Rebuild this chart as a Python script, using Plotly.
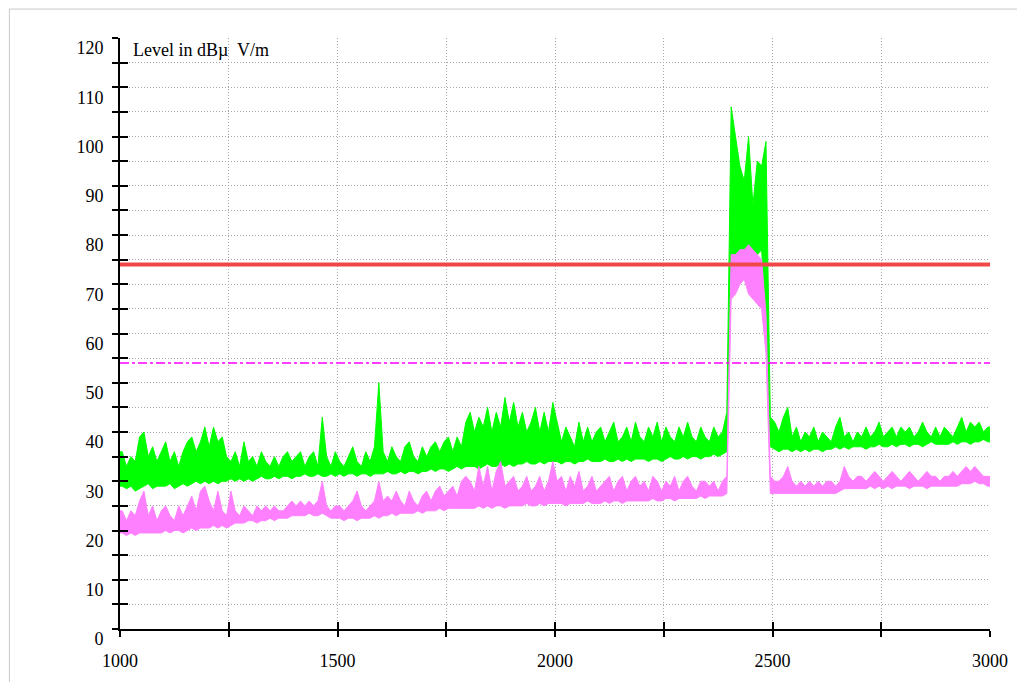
import numpy as np
import plotly.graph_objects as go

# ---------------- data ----------------
F_START, F_STOP, F_STEP = 1000, 3000, 10   # MHz, 10 MHz bins

GREEN_HI = [
    36, 33, 35, 34, 39, 40, 35, 37, 34, 36,
    38, 34, 36, 33, 36, 38, 39, 36, 38, 41,
    37, 41, 38, 39, 35, 34, 36, 33, 38, 34,
    35, 33, 36, 34, 33, 35, 33, 35, 36, 34,
    35, 36, 33, 35, 36, 33, 43, 35, 33, 36,
    34, 33, 35, 37, 34, 33, 36, 34, 37, 50,
    36, 34, 37, 35, 34, 37, 38, 35, 34, 37,
    35, 37, 38, 36, 38, 39, 36, 39, 37, 42,
    44, 40, 43, 41, 45, 40, 44, 41, 47, 42,
    46, 41, 44, 40, 42, 45, 40, 44, 40, 46,
    42, 38, 41, 39, 37, 42, 38, 41, 38, 40,
    41, 38, 40, 42, 38, 39, 41, 38, 42, 39,
    38, 41, 39, 42, 38, 41, 39, 38, 41, 39,
    42, 39, 38, 41, 39, 38, 41, 39, 40, 44,
    106, 100, 94, 91, 100, 86, 95, 94, 99, 43,
    42, 40, 43, 45, 39, 41, 38, 40, 39, 41,
    38, 40, 39, 38, 41, 43, 39, 40, 38, 40,
    39, 41, 39, 40, 42, 39, 40, 41, 39, 41,
    40, 41, 39, 40, 42, 40, 39, 41, 39, 41,
    40, 39, 41, 43, 40, 42, 41, 42, 40, 41,
]
GREEN_LO = [
    29, 28.5, 29, 28, 28.5, 29, 29.5, 28.5, 29, 29,
    29, 29.5, 28.5, 29, 29.5, 29, 29.5, 30, 29.5, 30,
    29.5, 30, 29.5, 30, 30, 30.5, 30, 30.5, 30, 30.5,
    30, 30.5, 31, 30.5, 30.5, 31, 30.5, 31, 31, 30.5,
    31, 31, 31.5, 31, 31, 31.5, 31, 31, 31.5, 31,
    31.5, 31, 31.5, 31.5, 31, 31.5, 31.5, 31, 31.5, 31.5,
    31.5, 32, 31.5, 31.5, 32, 31.5, 32, 32, 31.5, 32,
    32, 32.5, 32, 32.5, 32.5, 32, 32.5, 33, 32.5, 33,
    33, 33, 32.5, 33, 33.5, 33, 33, 33.5, 33, 33.5,
    33, 33.5, 33.5, 34, 33.5, 33.5, 34, 33.5, 34, 34,
    34, 33.5, 34, 34, 33.5, 34, 34, 34.5, 34, 34,
    34, 34.5, 34, 34, 34.5, 34, 34.5, 34, 34.5, 34.5,
    34.5, 34, 34.5, 34.5, 34, 34.5, 35, 34.5, 34.5, 35,
    34.5, 35, 35, 34.5, 35, 35, 35.5, 35, 35.5, 36,
    76, 76, 77, 76, 77, 76, 76, 77, 62, 37,
    36.5, 36, 36.5, 36.5, 36, 36.5, 36, 36.5, 36, 36.5,
    36.5, 36, 36.5, 36.5, 37, 36.5, 37, 36.5, 37, 37,
    37, 36.5, 37, 37, 37.5, 37, 37, 37.5, 37, 37.5,
    37.5, 37, 37.5, 37.5, 37, 37.5, 38, 37.5, 37.5, 37.5,
    37.5, 38, 37.5, 38, 38, 37.5, 38, 38, 38.5, 38,
]
PINK_HI = [
    24, 22, 24, 23, 26, 28, 23, 25, 22, 24,
    25, 23, 22, 25, 23, 25, 27, 24, 28, 29,
    26, 24, 28, 24, 23, 28, 24, 23, 25, 24,
    23, 25, 24, 25, 24, 25, 24, 24, 25, 26,
    25, 26, 25, 26, 25, 26, 30, 25, 24, 25,
    25, 24, 25, 26, 28, 25, 24, 25, 26, 30,
    26, 27, 26, 28, 26, 25, 28, 26, 25, 27,
    28, 26, 28, 29, 27, 28, 29, 27, 30, 31,
    30, 28, 33, 29, 33, 28, 32, 34, 29, 30,
    31, 28, 29, 31, 28, 29, 31, 28, 30, 34,
    30, 31, 28, 31, 29, 32, 28, 29, 31, 28,
    29, 30, 31, 28, 30, 31, 28, 30, 31, 29,
    30, 28, 31, 30, 28, 30, 29, 31, 28, 30,
    31, 29, 28, 30, 30, 29, 30, 28, 30, 31,
    76, 76, 77, 77, 78, 77, 76, 75, 64, 31,
    30, 30, 31, 33, 30, 29, 30, 29, 30, 29,
    30, 29, 30, 30, 29, 30, 33, 31, 30, 31,
    31, 30, 31, 32, 31, 30, 31, 32, 31, 30,
    31, 32, 31, 30, 31, 32, 31, 31, 30, 31,
    31, 32, 31, 32, 33, 32, 33, 32, 31, 31,
]
PINK_LO = [
    19.5, 19, 19.5, 19, 19.5, 19.5, 19.5, 19.5, 19.5, 19.5,
    20, 19.5, 20, 20, 19.5, 20, 20.5, 20, 20.5, 20.5,
    20.5, 21, 20.5, 21, 20.5, 21, 21.5, 21.5, 21.5, 22,
    22, 21.5, 22, 22, 22.5, 22, 22.5, 22.5, 22.5, 23,
    23, 23, 23, 23.5, 23, 23, 23.5, 23, 22.5, 22.5,
    22.5, 22, 22.5, 22.5, 22, 22.5, 22.5, 22.5, 23, 22.5,
    23, 23, 23.5, 23, 23.5, 23.5, 23.5, 23.5, 24, 23.5,
    24, 24, 24, 24.5, 24, 24.5, 24.5, 24.5, 24.5, 24.5,
    24.5, 24.5, 25, 24.5, 25, 24.5, 25, 25, 24.5, 25,
    25, 25, 25, 25.5, 25, 25, 25.5, 25, 25.5, 25.5,
    25.5, 25.5, 25, 25.5, 25.5, 25.5, 25.5, 26, 25.5, 25.5,
    25.5, 26, 25.5, 26, 26, 25.5, 26, 26, 26, 26,
    26, 26, 26.5, 26, 26, 26.5, 26.5, 26, 26.5, 26.5,
    26.5, 26.5, 26.5, 27, 26.5, 27, 27, 27, 27, 27.5,
    67, 68, 70, 71, 68, 67, 66, 65, 56, 27.5,
    27.5, 27.5, 27.5, 27.5, 27.5, 27.5, 27.5, 27.5, 27.5, 27.5,
    27.5, 27.5, 27.5, 27.5, 27.5, 28, 28.5, 28.5, 28.5, 28.5,
    28.5, 28.5, 29, 28.5, 29, 28.5, 29, 28.5, 29, 29,
    29, 28.5, 29, 29, 29, 28.5, 29, 29, 29, 29,
    29, 29, 29, 29.5, 29.5, 29.5, 30, 29.5, 29.5, 29,
]
LIMIT_PEAK = 74      # dBµV/m
LIMIT_AVG = 54       # dBµV/m
X_TICKS = [1000, 1250, 1500, 1750, 2000, 2250, 2500, 2750, 3000]
X_LABELS = ["1000", "", "1500", "", "2000", "", "2500", "", "3000"]
Y_TICKS = list(range(0, 121, 10))
Y_LABELS = [str(v) for v in Y_TICKS]
Y_TITLE = "Level in dBµ\u00a0 V/m"

# ---------------- build ----------------
centers = np.arange(F_START, F_STOP, F_STEP) + F_STEP / 2
xs = np.concatenate([[F_START], centers, [F_STOP]])


def padded(vals):
    v = list(vals)
    return [v[0]] + v + [v[-1]]


FONT = "Liberation Serif, Times New Roman, serif"
GRID = "#a8a8a8"
GREEN = "#00ff00"
PINK = "#ff80ff"

fig = go.Figure()
for lo, hi, col in ((GREEN_LO, GREEN_HI, GREEN), (PINK_LO, PINK_HI, PINK)):
    fig.add_trace(go.Scatter(x=xs, y=padded(lo), mode="lines",
                             line=dict(color=col, width=1), hoverinfo="skip"))
    fig.add_trace(go.Scatter(x=xs, y=padded(hi), mode="lines", fill="tonexty",
                             fillcolor=col, line=dict(color=col, width=1),
                             hoverinfo="skip"))
fig.add_trace(go.Scatter(x=[F_START, F_STOP], y=[LIMIT_AVG, LIMIT_AVG], mode="lines",
                         line=dict(color="#ff00ff", width=1.5, dash="dashdot")))
fig.add_trace(go.Scatter(x=[F_START, F_STOP], y=[LIMIT_PEAK, LIMIT_PEAK], mode="lines",
                         line=dict(color="#f04848", width=4)))

W, H = 1012, 675
L, T, R, B = 112, 30, 27, 53
PW, PH = W - L - R, H - T - B

fig.update_layout(
    width=W, height=H,
    margin=dict(l=L, r=R, t=T, b=B),
    paper_bgcolor="white", plot_bgcolor="white",
    showlegend=False,
    font=dict(family=FONT, size=18, color="black"),
    xaxis=dict(
        range=[F_START, F_STOP], tickmode="array",
        tickvals=X_TICKS, ticktext=X_LABELS,
        ticks="outside", ticklen=6, tickwidth=2, tickcolor="black",
        ticklabelstandoff=8,
        showline=True, linecolor="black", linewidth=2,
        showgrid=True, gridcolor=GRID, griddash="1px,2px", gridwidth=1,
        zeroline=False, fixedrange=True,
    ),
    xaxis2=dict(
        range=[F_START, F_STOP], overlaying="x", anchor="y", side="bottom",
        tickmode="array", tickvals=X_TICKS, showticklabels=False,
        ticks="inside", ticklen=7, tickwidth=2, tickcolor="black",
        showgrid=False, zeroline=False, showline=False,
    ),
    yaxis=dict(
        range=[0, 120], tickmode="array",
        tickvals=Y_TICKS, ticktext=Y_LABELS,
        ticks="outside", ticklen=6, tickwidth=2, tickcolor="black",
        ticklabelshift=10, ticklabelstandoff=5,
        minor=dict(dtick=5, tick0=0, ticks="outside", ticklen=6, tickwidth=2,
                   tickcolor="black", showgrid=True, gridcolor=GRID,
                   griddash="1px,2px", gridwidth=1),
        showline=True, linecolor="black", linewidth=2,
        showgrid=True, gridcolor=GRID, griddash="1px,2px", gridwidth=1,
        zeroline=False, fixedrange=True,
    ),
    yaxis2=dict(
        range=[0, 120], overlaying="y", anchor="x", side="left",
        tickmode="linear", tick0=0, dtick=5, showticklabels=False,
        ticks="inside", ticklen=8, tickwidth=2, tickcolor="black",
        showgrid=False, zeroline=False, showline=False,
    ),
    annotations=[dict(
        text=Y_TITLE, xref="paper", yref="paper", x=0, y=1,
        xanchor="left", yanchor="top", xshift=11, yshift=0,
        showarrow=False, font=dict(family=FONT, size=18, color="black"),
    )],
    shapes=[
        dict(type="line", xref="paper", yref="paper",
             x0=-(L - 1) / PW, x1=(W - L) / PW, y0=1 + (T - 1) / PH, y1=1 + (T - 1) / PH,
             line=dict(color="#c8c8c8", width=1)),
        dict(type="line", xref="paper", yref="paper",
             x0=-(L - 1) / PW, x1=-(L - 1) / PW, y0=1 + (T - 1) / PH, y1=-B / PH,
             line=dict(color="#c8c8c8", width=1)),
    ],
)
# dummy trace to activate overlay axes
fig.add_trace(go.Scatter(x=[None], y=[None], xaxis="x2", yaxis="y2",
                         showlegend=False, hoverinfo="skip"))

fig.write_html("out.html")
